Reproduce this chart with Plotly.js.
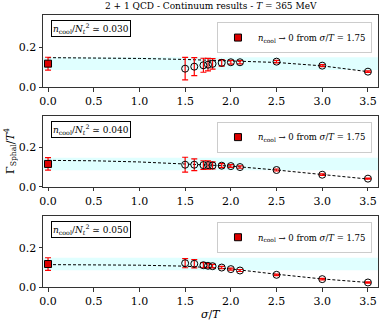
<!DOCTYPE html>
<html>
<head>
<meta charset="utf-8">
<script src="https://cdn.plot.ly/plotly-3.0.1.min.js"></script>
<style>
  html, body { margin: 0; padding: 0; background: #fff; }
  #chart { width: 383px; height: 326px; }
</style>
</head>
<body>
<div id="chart"></div>
<script>
/* ---- Data ---- */
const sigmaT = [1.5, 1.6, 1.7, 1.75, 1.8, 1.9, 2.0, 2.1, 2.5, 3.0, 3.5];

const ratios = ['0.030', '0.040', '0.050'];

const gamma030 = [0.092, 0.102, 0.109, 0.112, 0.116, 0.121, 0.124, 0.124, 0.127, 0.107, 0.077];
const err030   = [0.056, 0.045, 0.035, 0.031, 0.026, 0.016, 0.009, 0.008, 0.006, 0.005, 0.004];

const gamma040 = [0.113, 0.113, 0.111, 0.111, 0.109, 0.108, 0.106, 0.101, 0.086, 0.062, 0.042];
const err040   = [0.038, 0.030, 0.022, 0.021, 0.018, 0.010, 0.007, 0.006, 0.005, 0.004, 0.003];

const gamma050 = [0.121, 0.118, 0.111, 0.108, 0.106, 0.099, 0.091, 0.084, 0.062, 0.040, 0.023];
const err050   = [0.023, 0.021, 0.013, 0.011, 0.009, 0.006, 0.005, 0.005, 0.004, 0.004, 0.003];

// fit curves (dashed)
const fitX   = [0, 0.5, 1.0, 1.5, 2.0, 2.5, 3.0, 3.5];
const fit030 = [0.147, 0.146, 0.143, 0.138, 0.131, 0.123, 0.106, 0.077];
const fit040 = [0.135, 0.133, 0.127, 0.117, 0.106, 0.086, 0.063, 0.040];
const fit050 = [0.114, 0.113, 0.111, 0.106, 0.092, 0.065, 0.041, 0.023];

// n_cool -> 0 extrapolation at sigma/T = 0
const extrapX   = [0];
const extrapY   = [0.117];
const extrapErr = [0.032];

const xTicks = [0, 0.5, 1.0, 1.5, 2.0, 2.5, 3.0, 3.5];
const yTicks = [0, 0.2];

/* ---- Style ---- */
const FONT = 'DejaVu Serif, Liberation Serif, serif';
const RED = '#ff0000';
const SPINE = '#333333';
const domains = [[0.735, 1.0], [0.368, 0.628], [0.0, 0.26]];
const legendTop = [0.974, 0.608, 0.24];

const series = [
  { y: gamma030, e: err030, fit: fit030 },
  { y: gamma040, e: err040, fit: fit040 },
  { y: gamma050, e: err050, fit: fit050 },
];

const traces = [];
const layout = {
  width: 383, height: 326,
  margin: { l: 43, r: 5, t: 15, b: 39 },
  paper_bgcolor: '#fff', plot_bgcolor: '#fff',
  font: { family: FONT, size: 11, color: '#000' },
  showlegend: true,
  shapes: [], annotations: [],
};

series.forEach((s, i) => {
  const n = i === 0 ? '' : String(i + 1);
  const xa = 'x' + n, ya = 'y' + n;
  const lg = 'legend' + n;

  // dashed fit
  traces.push({
    x: fitX, y: s.fit, xaxis: xa, yaxis: ya,
    mode: 'lines', line: { color: '#000', width: 1, dash: '3px,2px' },
    showlegend: false, hoverinfo: 'skip',
  });
  // lattice points
  traces.push({
    x: sigmaT, y: s.y, xaxis: xa, yaxis: ya,
    mode: 'markers', type: 'scatter',
    marker: { symbol: 'circle', size: 7, color: 'rgba(0,0,0,0)', line: { color: '#000', width: 1 } },
    error_y: { type: 'data', array: s.e, visible: true, color: RED, thickness: 1.2, width: 3 },
    showlegend: false,
  });
  // extrapolated point
  traces.push({
    x: extrapX, y: extrapY, xaxis: xa, yaxis: ya,
    mode: 'markers', type: 'scatter',
    marker: { symbol: 'square', size: 7, color: '#dd0000', line: { color: '#000', width: 1 } },
    error_y: { type: 'data', array: extrapErr, visible: true, color: RED, thickness: 1.2, width: 3 },
    name: '<i>n</i><sub>cool</sub> → 0 from <i>σ</i>/<i>T</i> = 1.75',
    legend: lg, showlegend: true,
  });

  layout['xaxis' + n] = {
    domain: [0, 1], anchor: ya, range: [-0.055, 3.61],
    tickvals: xTicks, ticktext: xTicks.map(v => v.toFixed(1)),
    ticks: 'outside', ticklen: 3.5, tickcolor: SPINE,
    showline: true, mirror: true, linecolor: SPINE, linewidth: 1,
    showgrid: false, zeroline: false,
    tickfont: { family: FONT, size: 11 },
  };
  layout['yaxis' + n] = {
    domain: domains[i], anchor: xa, range: [0, 0.36],
    tickvals: yTicks, ticktext: yTicks.map(v => v.toFixed(1)),
    ticks: 'outside', ticklen: 3.5, tickcolor: SPINE,
    showline: true, mirror: true, linecolor: SPINE, linewidth: 1,
    showgrid: false, zeroline: false,
    tickfont: { family: FONT, size: 11 },
  };
  layout[lg] = {
    x: 0.982, xanchor: 'right', y: legendTop[i], yanchor: 'top',
    bgcolor: 'rgba(255,255,255,0.9)', bordercolor: '#cccccc', borderwidth: 1,
    font: { family: FONT, size: 8.5 },
    itemwidth: 30, tracegroupgap: 0,
  };

  // cyan band from the extrapolated value
  layout.shapes.push({
    type: 'rect', xref: xa + ' domain', yref: ya,
    x0: 0, x1: 1, y0: extrapY[0] - extrapErr[0], y1: extrapY[0] + extrapErr[0],
    fillcolor: '#e0ffff', line: { width: 0 }, layer: 'below',
  });

  layout.annotations.push({
    text: '<i>n</i><sub>cool</sub>/<i>N</i><sub><i>t</i></sub><sup>2</sup> ≃ ' + ratios[i],
    xref: xa + ' domain', yref: ya + ' domain', x: 0.025, y: 0.93,
    xanchor: 'left', yanchor: 'top', showarrow: false,
    font: { family: FONT, size: 9 }, bgcolor: '#fff',
    bordercolor: '#000', borderwidth: 1, borderpad: 1,
  });
});

layout.annotations.push(
  { text: '2 + 1 QCD - Continuum results - <i>T</i> = 365 MeV',
    xref: 'paper', yref: 'paper', x: 0.5, y: 1.0, yshift: 2, xanchor: 'center', yanchor: 'bottom',
    showarrow: false, font: { family: FONT, size: 9 } },
  { text: 'Γ<sub>Sphal</sub>/<i>T</i><sup>4</sup>',
    xref: 'paper', yref: 'paper', x: 0, xshift: -33, y: 0.5, textangle: -90,
    xanchor: 'center', yanchor: 'middle', showarrow: false, font: { family: FONT, size: 11 } },
  { text: '<i>σ</i>/<i>T</i>',
    xref: 'paper', yref: 'paper', x: 0.5, y: 0, yshift: -19, xanchor: 'center', yanchor: 'top',
    showarrow: false, font: { family: FONT, size: 11 } }
);

Plotly.newPlot('chart', traces, layout, { displayModeBar: false, staticPlot: true });
</script>
</body>
</html>
